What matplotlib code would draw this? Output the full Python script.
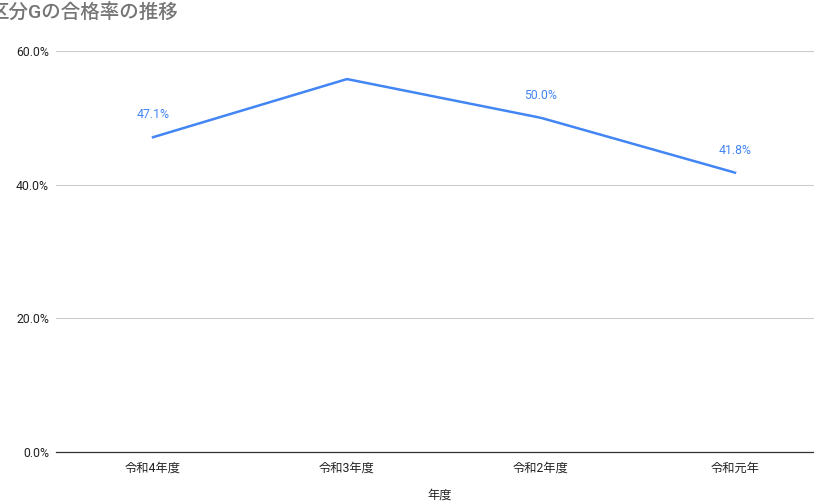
import matplotlib
matplotlib.use("Agg")
import matplotlib.pyplot as plt
from matplotlib.ticker import FuncFormatter

plt.rcParams['font.family'] = ['Roboto', 'Noto Sans CJK JP', 'DejaVu Sans']

categories = ['令和4年度', '令和3年度', '令和2年度', '令和元年']
rates = [47.1, 55.8, 50.0, 41.8]
labeled = [True, False, True, True]
yticks = [0, 20, 40, 60]
title = '区分Gの合格率の推移'
xlabel = '年度'

W, H = 814, 503
fig = plt.figure(figsize=(W / 100, H / 100), dpi=100)
left, right, top, bottom = 56, 832, 51, 452
ax = fig.add_axes([left / W, (H - bottom) / H, (right - left) / W, (bottom - top) / H])

x = list(range(len(categories)))
ax.plot(x, rates, color='#4285F4', linewidth=1.8, solid_joinstyle='round', zorder=3)
for xi, v, lab in zip(x, rates, labeled):
    if lab:
        ax.annotate(f'{v:.1f}%', xy=(xi, v), xytext=(0, 16), textcoords='offset points',
                    ha='center', va='center', color='#4285F4', fontsize=8.8,
                    arrowprops=dict(arrowstyle='-', color='#eeeeee', lw=0.8,
                                    shrinkA=6, shrinkB=1))

ax.set_xlim(-0.5, len(categories) - 0.5)
ax.set_ylim(0, 60)
ax.set_yticks(yticks)
ax.yaxis.set_major_formatter(FuncFormatter(lambda v, p: f'{v:.1f}%'))
ax.set_xticks(x)
ax.set_xticklabels(categories)
ax.grid(axis='y', color='#cccccc', linewidth=0.8)
ax.set_axisbelow(True)
for s in ['top', 'right', 'left']:
    ax.spines[s].set_visible(False)
ax.spines['bottom'].set_color('#333333')
ax.spines['bottom'].set_linewidth(0.9)
ax.tick_params(axis='both', length=0, labelsize=8.8, labelcolor='#222222')
ax.tick_params(axis='y', pad=5)
ax.tick_params(axis='x', pad=7)

fig.text(440 / W, 1 - 495 / H, xlabel, ha='center', va='center', fontsize=8.8, color='#222222')
fig.text(-11 / W, 1 - 13 / H, title, ha='left', va='center', fontsize=14,
         color='#757575', fontweight='medium')

fig.savefig('out.png', dpi=100)
